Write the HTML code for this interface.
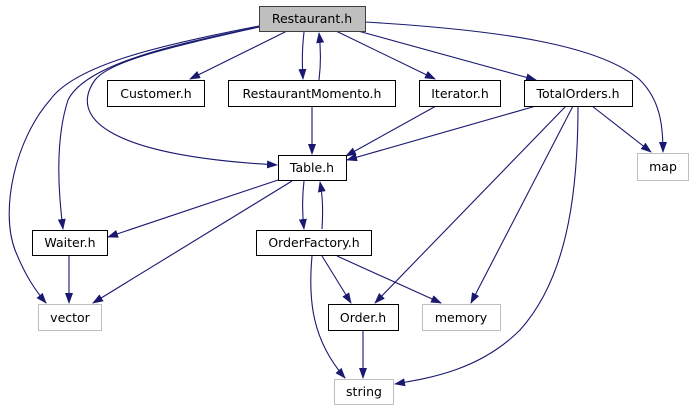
<!DOCTYPE html>
<html><head><meta charset="utf-8"><style>
body{margin:0;background:#fff;}
svg text{font-family:"DejaVu Sans","Liberation Sans",sans-serif;font-size:12.5px;fill:#000;text-anchor:middle;}
</style></head><body>
<svg width="693" height="411" viewBox="0 0 693 411" xmlns="http://www.w3.org/2000/svg">
<defs><marker id="ah" markerWidth="11" markerHeight="8" refX="10" refY="4" orient="auto" markerUnits="userSpaceOnUse"><polygon points="0,0 11,4 0,8" fill="#191970"/></marker></defs>
<g fill="none" stroke="#191970" stroke-width="1.1" marker-end="url(#ah)">
<path d="M287,31 L190,79"/>
<path d="M304,32 C302,50 302,62 303,79"/>
<path d="M319,80 C321,64 321,50 319,33"/>
<path d="M336,31 L435,79"/>
<path d="M358,31 L536,80"/>
<path d="M365,22 C500,30 600,45 640,80 C660,100 663,125 663,152"/>
<path d="M259,27 C180,45 110,60 95,80 C70,115 100,155 277,165"/>
<path d="M259,27 C170,45 85,65 68,100 C55,140 58,190 63,229"/>
<path d="M259,26 C160,45 75,65 50,100 C15,140 0,210 15,250 C25,275 35,290 46,303"/>
<path d="M312,106 L312,154"/>
<path d="M436,106 L346,156"/>
<path d="M536,106 L347,160"/>
<path d="M592,106 L651,152"/>
<path d="M566,106 L375,303"/>
<path d="M573,106 L471,303"/>
<path d="M578,106 C578,200 565,280 520,330 C480,370 430,378 395,384"/>
<path d="M278,180 L108,237"/>
<path d="M292,181 L93,303"/>
<path d="M304,181 C302,198 302,212 304,229"/>
<path d="M322,229 C323,212 323,198 320,182"/>
<path d="M69,256 L69,303"/>
<path d="M322,256 L351,303"/>
<path d="M337,256 L441,303"/>
<path d="M312,256 C308,300 312,340 345,378"/>
<path d="M363,330 L363,378"/>
</g>
<g stroke-width="1">
<g><rect x="259.5" y="6.5" width="106" height="25" fill="#bfbfbf" stroke="#404040"/><text x="312" y="23">Restaurant.h</text></g>
<g><rect x="107.5" y="80.5" width="97" height="26" fill="#fff" stroke="#000"/><text x="156" y="98">Customer.h</text></g>
<g><rect x="228.5" y="80.5" width="167" height="26" fill="#fff" stroke="#000"/><text x="312" y="98">RestaurantMomento.h</text></g>
<g><rect x="419.5" y="80.5" width="81" height="26" fill="#fff" stroke="#000"/><text x="460" y="98">Iterator.h</text></g>
<g><rect x="524.5" y="80.5" width="108" height="26" fill="#fff" stroke="#000"/><text x="578" y="98">TotalOrders.h</text></g>
<g><rect x="278.5" y="155.5" width="68" height="25" fill="#fff" stroke="#000"/><text x="312" y="172">Table.h</text></g>
<g><rect x="637.5" y="153.5" width="51" height="27" fill="#fff" stroke="#bfbfbf"/><text x="663" y="171">map</text></g>
<g><rect x="32.5" y="230.5" width="75" height="25" fill="#fff" stroke="#000"/><text x="70" y="247">Waiter.h</text></g>
<g><rect x="256.5" y="230.5" width="115" height="25" fill="#fff" stroke="#000"/><text x="314" y="247">OrderFactory.h</text></g>
<g><rect x="38.5" y="304.5" width="63" height="26" fill="#fff" stroke="#bfbfbf"/><text x="70" y="322">vector</text></g>
<g><rect x="328.5" y="304.5" width="70" height="26" fill="#fff" stroke="#000"/><text x="363" y="322">Order.h</text></g>
<g><rect x="422.5" y="304.5" width="78" height="26" fill="#fff" stroke="#bfbfbf"/><text x="461" y="322">memory</text></g>
<g><rect x="334.5" y="379.5" width="59" height="25" fill="#fff" stroke="#bfbfbf"/><text x="364" y="396">string</text></g>
</g>
</svg>
</body></html>
